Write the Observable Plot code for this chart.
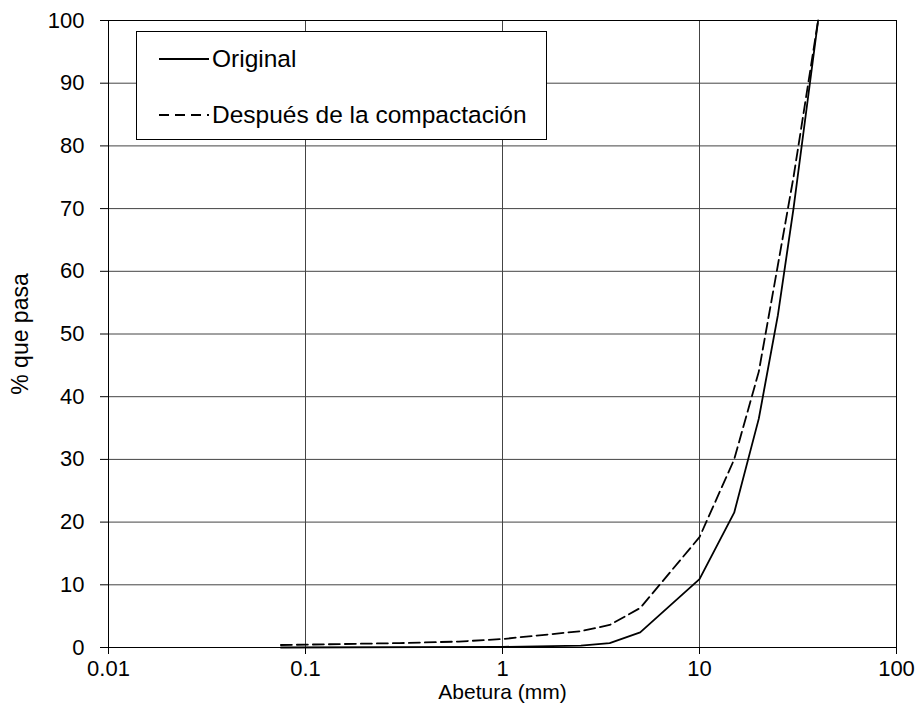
<!DOCTYPE html>
<html><head><meta charset="utf-8">
<script src="https://cdn.jsdelivr.net/npm/d3@7"></script>
<script src="https://cdn.jsdelivr.net/npm/@observablehq/plot@0.6"></script>
<style>
body{margin:0;background:#fff;font-family:"Liberation Sans",Arial,sans-serif;}
#wrap{position:relative;width:920px;height:713px;}
#legend{position:absolute;left:136px;top:31px;width:411px;height:109px;border:1px solid #000;background:#fff;box-sizing:border-box;}
.row{position:absolute;left:21px;display:flex;align-items:center;font-size:24.5px;color:#000;white-space:nowrap;}
.row svg{margin-right:2px;}
g[aria-label="y-axis label"] text{font-size:23px;}
g[aria-label="x-axis label"] text{font-size:21px;}
</style></head><body><div id="wrap"></div>
<script>
const sizesOriginal = [0.075, 1, 2.5, 3.5, 5, 10, 15, 20, 25, 30, 40];
const passOriginal = [0, 0.1, 0.3, 0.7, 2.4, 10.9, 21.5, 36.5, 53, 70, 100];
const sizesCompacted = [0.075, 0.15, 0.3, 0.6, 1, 2.5, 3.5, 5, 10, 15, 20, 25, 30, 40];
const passCompacted = [0.4, 0.55, 0.7, 0.95, 1.35, 2.6, 3.6, 6.3, 17.6, 30, 44, 61, 75, 100];
const xTicks = [0.01, 0.1, 1, 10, 100];
const yTicks = [0, 10, 20, 30, 40, 50, 60, 70, 80, 90, 100];
const seriesNames = ["Original", "Después de la compactación"];
const xLabel = "Abetura (mm)";
const yLabel = "% que pasa";

const orig = sizesOriginal.map((s, i) => ({size: s, pass: passOriginal[i]}));
const comp = sizesCompacted.map((s, i) => ({size: s, pass: passCompacted[i]}));

const chart = Plot.plot({
  width: 920, height: 713,
  marginTop: 20, marginBottom: 66, marginLeft: 108, marginRight: 24,
  style: {fontFamily: "'Liberation Sans', Arial, sans-serif", fontSize: "22px", background: "#fff", color: "#000", overflow: "visible"},
  x: {type: "log", domain: [0.01, 100]},
  y: {domain: [0, 100]},
  marks: [
    Plot.gridX(xTicks, {stroke: "#444", strokeOpacity: 1, strokeWidth: 1}),
    Plot.gridY(yTicks, {stroke: "#444", strokeOpacity: 1, strokeWidth: 1}),
    Plot.frame({stroke: "#000"}),
    Plot.axisX(xTicks, {tickSize: 7, tickPadding: 6, tickFormat: d => String(d), label: xLabel, labelAnchor: "center", labelOffset: 51, labelArrow: "none"}),
    Plot.axisY(yTicks, {tickSize: 8, tickPadding: 16, tickFormat: d => String(d), label: yLabel, labelAnchor: "center", labelOffset: 97, labelArrow: "none"}),
    Plot.line(orig, {x: "size", y: "pass", stroke: "#000", strokeWidth: 1.8}),
    Plot.line(comp, {x: "size", y: "pass", stroke: "#000", strokeWidth: 1.8, strokeDasharray: "11,5"})
  ]
});
const wrap = document.getElementById("wrap");
wrap.appendChild(chart);

const legend = document.createElement("div");
legend.id = "legend";
const dashes = [null, "10,6"];
const rowTops = [13, 69];
seriesNames.forEach((name, i) => {
  const row = document.createElement("div");
  row.className = "row";
  row.style.top = rowTops[i] + "px";
  row.innerHTML = `<svg width="52" height="20"><line x1="1" x2="51" y1="10" y2="10" stroke="#000" stroke-width="1.8" ${dashes[i] ? `stroke-dasharray="${dashes[i]}"` : ""}/></svg><span>${name}</span>`;
  legend.appendChild(row);
});
wrap.appendChild(legend);
</script>
</body></html>
